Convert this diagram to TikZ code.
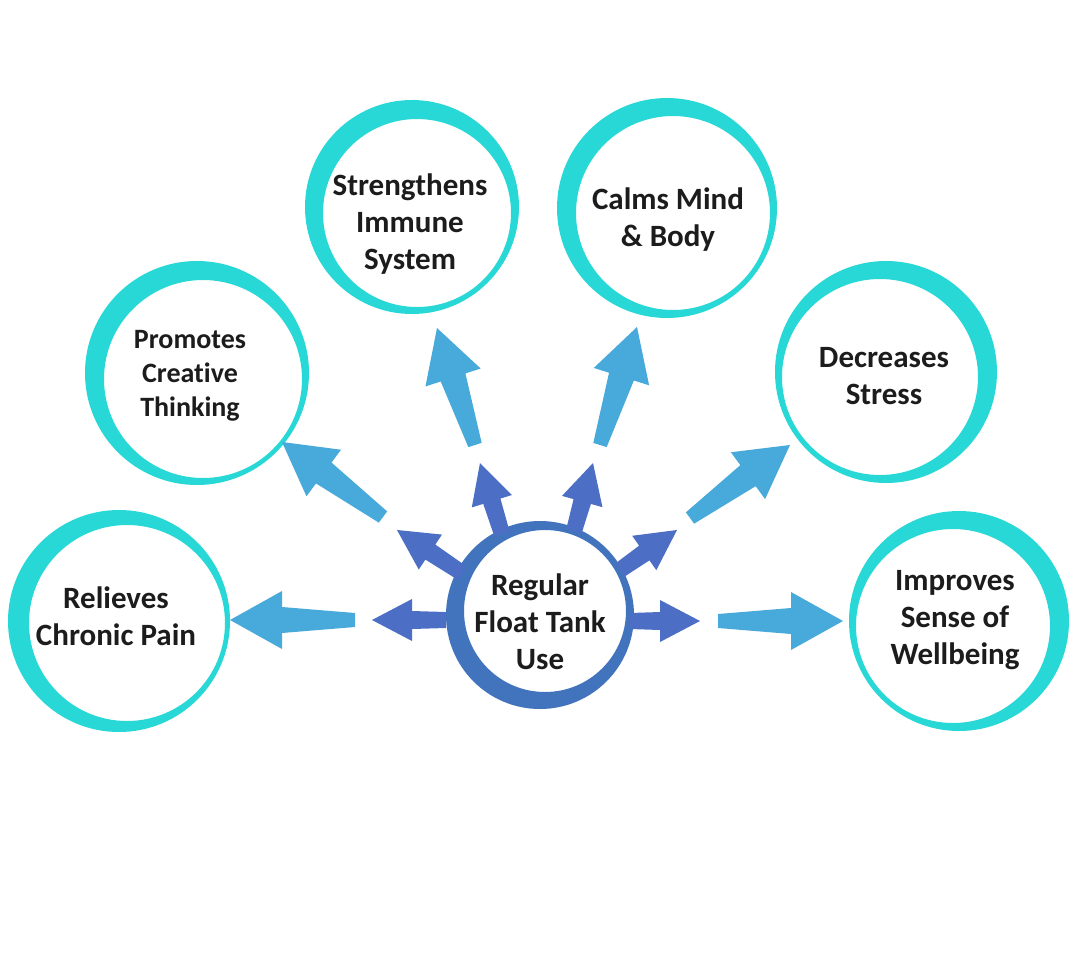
\documentclass[tikz,border=0pt]{standalone}
\usepackage{fontspec}
\setmainfont{Carlito}[Ligatures=NoCommon]
\usetikzlibrary{calc}
\definecolor{ringcyan}{RGB}{40,216,214}
\definecolor{outerarrow}{RGB}{72,170,218}
\definecolor{innerarrow}{RGB}{76,110,196}
\definecolor{hubring}{RGB}{66,116,190}
\definecolor{txt}{RGB}{28,28,28}
\newcommand\blockarrow[7]{%
  \coordinate (#2h) at ($(#3)!#7!(#2)$);
  \fill[#1] ($(#2)!#4!90:(#3)$) -- ($(#2h)!#5!90:(#3)$) -- ($(#2h)!#6!90:(#3)$) -- (#3)
    -- ($(#2h)!#6!-90:(#3)$) -- ($(#2h)!#5!-90:(#3)$) -- ($(#2)!#4!-90:(#3)$) -- cycle;
}
\newcommand\crescent[5]{% #1 colour, #2 centre, #3 outer r, #4 offset, #5 inner r
  \fill[#1, even odd rule] (#2) circle (#3) ($(#2)+(#4)$) circle (#5);
}
\tikzset{
  label text/.style={font=\bfseries\fontsize{31}{37}\selectfont, text=txt, align=center, inner sep=0pt},
  small text/.style={font=\bfseries\fontsize{28}{34}\selectfont, text=txt, align=center, inner sep=0pt},
}
\begin{document}
\begin{tikzpicture}[x=1pt,y=-1pt]
\useasboundingbox (0,0) rectangle (1080,978);
\fill[white] (0,0) rectangle (1080,978);

% ring centres
\coordinate (painC) at (119,621);
\coordinate (creaC) at (197,373);
\coordinate (immC) at (412,207);
\coordinate (calmC) at (667,208);
\coordinate (strC) at (886,372);
\coordinate (wellC) at (959,621);
\coordinate (hubC) at (540,615);

% outer rings (crescent strokes)
\crescent{ringcyan}{painC}{111pt}{8,2}{98pt}
\crescent{ringcyan}{creaC}{112pt}{6,6}{99pt}
\crescent{ringcyan}{immC}{107pt}{5,6}{94pt}
\crescent{ringcyan}{calmC}{110pt}{6,5}{97pt}
\crescent{ringcyan}{strC}{111pt}{-6,5}{98pt}
\crescent{ringcyan}{wellC}{110pt}{-6,5}{97pt}
\crescent{hubring}{hubC}{94pt}{5,-4}{81pt}

% text nodes
\node[label text] (hub) at (540,622) {Regular\\Float Tank\\Use};
\node[label text] (pain) at (116,616) {Relieves\\Chronic Pain};
\node[small text] (crea) at (190,376) {Promotes\\Creative\\Thinking};
\node[label text] (imm) at (410,224) {Strengthens\\Immune\\System};
\node[label text] (calm) at (668,220) {Calms Mind\\\& Body};
\node[label text] (str) at (884,376) {Decreases\\Stress};
\node[label text] (well) at (955,620) {Improves\\Sense of\\Wellbeing};

% small arrows from the hub
\coordinate (sLt) at (446,620);  \coordinate (sLh) at (372,620);
\coordinate (sULt) at (462,573); \coordinate (sULh) at (397,530);
\coordinate (sUt) at (502,534);  \coordinate (sUh) at (480,463);
\coordinate (sVt) at (574,531);  \coordinate (sVh) at (593,463);
\coordinate (sURt) at (620,570); \coordinate (sURh) at (677,530);
\coordinate (sRt) at (630,621);  \coordinate (sRh) at (700,621);
\blockarrow{innerarrow}{sLt}{sLh}{8pt}{9pt}{21pt}{40pt}
\blockarrow{innerarrow}{sULt}{sULh}{8pt}{9pt}{21pt}{40pt}
\blockarrow{innerarrow}{sUt}{sUh}{8pt}{9pt}{21pt}{40pt}
\blockarrow{innerarrow}{sVt}{sVh}{8pt}{9pt}{21pt}{40pt}
\blockarrow{innerarrow}{sURt}{sURh}{8pt}{9pt}{21pt}{40pt}
\blockarrow{innerarrow}{sRt}{sRh}{8pt}{9pt}{21pt}{40pt}

% outer arrows towards the benefit circles
\coordinate (oLt) at (355,620);  \coordinate (oLh) at (230,620);
\coordinate (oULt) at (383,517); \coordinate (oULh) at (282,442);
\coordinate (oUt) at (475,445);  \coordinate (oUh) at (437,328);
\coordinate (oVt) at (600,445);  \coordinate (oVh) at (637,327);
\coordinate (oURt) at (690,518); \coordinate (oURh) at (790,445);
\coordinate (oRt) at (718,621);  \coordinate (oRh) at (843,621);
\blockarrow{outerarrow}{oLt}{oLh}{7pt}{13pt}{29pt}{52pt}
\blockarrow{outerarrow}{oULt}{oULh}{7pt}{13pt}{29pt}{52pt}
\blockarrow{outerarrow}{oUt}{oUh}{7pt}{13pt}{29pt}{52pt}
\blockarrow{outerarrow}{oVt}{oVh}{7pt}{13pt}{29pt}{52pt}
\blockarrow{outerarrow}{oURt}{oURh}{7pt}{13pt}{29pt}{52pt}
\blockarrow{outerarrow}{oRt}{oRh}{7pt}{13pt}{29pt}{52pt}
\end{tikzpicture}
\end{document}
